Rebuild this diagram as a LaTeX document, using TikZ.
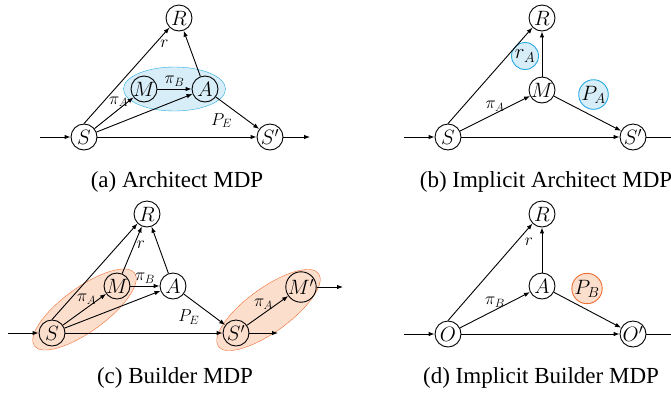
\documentclass[tikz,border=0pt]{standalone}
\usepackage{fontspec}
\setmainfont{Liberation Serif}
\usetikzlibrary{arrows.meta, positioning, shapes.geometric, calc, backgrounds}
\definecolor{archfill}{RGB}{215, 238, 248}
\definecolor{archline}{RGB}{40, 170, 225}
\definecolor{buildfill}{RGB}{252, 222, 205}
\definecolor{buildline}{RGB}{240, 110, 50}
\tikzstyle{state}       = [circle, draw=black, minimum size=26pt, inner sep=0pt,
                           font=\fontsize{21}{21}\selectfont]
\tikzstyle{archbox}     = [circle, draw=archline, fill=archfill, minimum size=27pt,
                           inner sep=0pt, font=\fontsize{20}{20}\selectfont]
\tikzstyle{buildbox}    = [circle, draw=buildline, fill=buildfill, minimum size=28pt,
                           inner sep=0pt, font=\fontsize{20}{20}\selectfont]
\tikzstyle{archregion}  = [ellipse, draw=archline, fill=archfill, inner sep=0pt,
                           minimum width=102pt, minimum height=44pt]
\tikzstyle{buildregion} = [ellipse, draw=buildline, fill=buildfill, inner sep=0pt,
                           minimum width=124pt, minimum height=44pt, rotate=36]
\tikzstyle{lbl}         = [font=\fontsize{18}{18}\selectfont, inner sep=2pt]
\tikzstyle{caption}     = [font=\fontsize{23}{26}\selectfont]
\tikzstyle{arrow}       = [-{Latex[length=6pt, width=4.5pt]}]

\begin{document}
\begin{tikzpicture}[x=1pt, y=-1pt, line width=0.9pt, on grid]
  \useasboundingbox (0,0) rectangle (671,392);

  % (a) architect
  \node (aS)  [state] at (84,137)  {$S$};
  \node (aSp) [state, right=186pt of aS] {$S'$};
  \node (aR)  [state] at (179,18)  {$R$};
  \node (aM)  [state] at (144,89)  {$M$};
  \node (aA)  [state, right=61pt of aM] {$A$};
  \coordinate (ain)  at (40,137);
  \coordinate (aout) at (310,137);
  \begin{scope}[on background layer]
    \node (areg) [archregion] at ($(aM)!0.5!(aA)$) {};
  \end{scope}
  \draw [arrow] (ain) -- (aS);
  \draw [arrow] (aS.north) -- node[lbl, pos=0.83, right=3pt] {$r$} (aR.south west);
  \draw [arrow] (aA) -- (aR);
  \draw [arrow] (aS) -- node[lbl, pos=0.62, above] {$\pi_A$} (aM);
  \draw [arrow] (aS) -- (aA);
  \draw [arrow] (aM) -- node[lbl, above] {$\pi_B$} (aA);
  \draw [arrow] (aA) -- node[lbl, pos=0.43, below left] {$P_E$} (aSp);
  \draw [arrow] (aS) -- (aSp);
  \draw [arrow] (aSp) -- (aout);
  \node (acap) [caption] at (177,182) {(a) Architect MDP};

  % (b) implicit architect
  \begin{scope}[shift={(336,0)}]
    \node (bS)  [state] at (112,137) {$S$};
    \node (bSp) [state, right=185pt of bS] {$S'$};
    \node (bR)  [state] at (206,18)  {$R$};
    \node (bM)  [state] at (206,90)  {$M$};
    \node (brA) [archbox] at (189,56) {$r_A$};
    \node (bPA) [archbox] at (257.5,94.5) {$P_A$};
    \coordinate (bin)  at (68,137);
    \coordinate (bout) at (342,137);
    \draw [arrow] (bin) -- (bS);
    \draw [arrow] (bS.north) -- (bR.south west);
    \draw [arrow] (bM) -- (bR);
    \draw [arrow] (bS) -- node[lbl, pos=0.5, above] {$\pi_A$} (bM);
    \draw [arrow] (bM) -- (bSp);
    \draw [arrow] (bS) -- (bSp);
    \draw [arrow] (bSp) -- (bout);
    \node (bcap) [caption] at (210,182) {(b) Implicit Architect MDP};
  \end{scope}

  % (c) builder
  \begin{scope}[shift={(0,196)}]
    \node (cS)  [state] at (52,137)  {$S$};
    \node (cSp) [state, right=184pt of cS] {$S'$};
    \node (cR)  [state] at (147,18)  {$R$};
    \node (cM)  [state] at (117,90)  {$M$};
    \node (cA)  [state, right=56pt of cM] {$A$};
    \node (cMp) [state] at (301,91)  {$M'$};
    \coordinate (cin)   at (8,137);
    \coordinate (cout)  at (278,137);
    \coordinate (cout2) at (343,91);
    \begin{scope}[on background layer]
      \node (creg1) [buildregion] at ($(cS)!0.5!(cM)$) {};
      \node (creg2) [buildregion] at ($(cSp)!0.5!(cMp)$) {};
    \end{scope}
    \draw [arrow] (cin) -- (cS);
    \draw [arrow] (cS.north) -- (cR.south west);
    \draw [arrow] (cM) -- node[lbl, pos=0.62, right] {$r$} (cR);
    \draw [arrow] (cA) -- (cR);
    \draw [arrow] (cS) -- node[lbl, pos=0.55, above=1pt] {$\pi_A$} (cM);
    \draw [arrow] (cS) -- (cA);
    \draw [arrow] (cM) -- node[lbl, above] {$\pi_B$} (cA);
    \draw [arrow] (cA) -- node[lbl, pos=0.43, below left] {$P_E$} (cSp);
    \draw [arrow] (cS) -- (cSp);
    \draw [arrow] (cSp) -- (cout);
    \draw [arrow] (cSp) -- node[lbl, pos=0.4, above=2pt] {$\pi_A$} (cMp);
    \draw [arrow] (cMp) -- (cout2);
    \node (ccap) [caption] at (175,182) {(c) Builder MDP};
  \end{scope}

  % (d) implicit builder
  \begin{scope}[shift={(336,196)}]
    \node (dO)  [state] at (112,138) {$O$};
    \node (dOp) [state, right=185pt of dO] {$O'$};
    \node (dR)  [state] at (206,18)  {$R$};
    \node (dA)  [state] at (206,90)  {$A$};
    \node (dPB) [buildbox] at (251,92.5) {$P_B$};
    \coordinate (din)  at (68,138);
    \coordinate (dout) at (342,138);
    \draw [arrow] (din) -- (dO);
    \draw [arrow] (dO.north) -- node[lbl, pos=0.81, right=6pt] {$r$} (dR.south west);
    \draw [arrow] (dA) -- (dR);
    \draw [arrow] (dO) -- node[lbl, pos=0.5, above] {$\pi_B$} (dA);
    \draw [arrow] (dA) -- (dOp);
    \draw [arrow] (dO) -- (dOp);
    \draw [arrow] (dOp) -- (dout);
    \node (dcap) [caption] at (205,182) {(d) Implicit Builder MDP};
  \end{scope}
\end{tikzpicture}
\end{document}
